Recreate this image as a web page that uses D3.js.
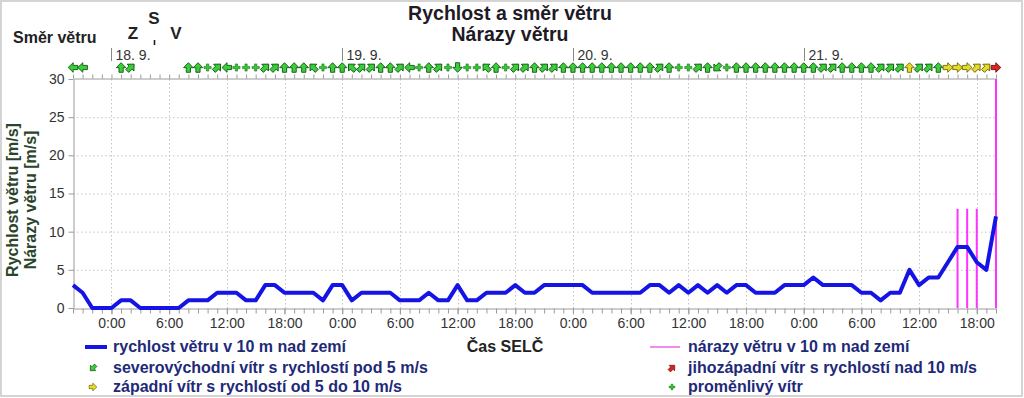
<!DOCTYPE html>
<html>
<head>
<meta charset="utf-8">
<script src="https://cdn.jsdelivr.net/npm/d3@7"></script>
<style>
  body { margin: 0; background: #fff; }
  svg { display: block; }
  text { font-family: "Liberation Sans", Arial, sans-serif; }
</style>
</head>
<body>
<svg id="chart" width="1024" height="398"></svg>
<script>
// hourly values, 17. 9. 20:00 -> 21. 9. 20:00
const startTime = Date.UTC(2023, 8, 17, 20);

const speed = [
  3, 2, 0, 0, 0, 1, 1, 0, 0, 0, 0, 0,
  1, 1, 1, 2, 2, 2, 1, 1, 3, 3, 2, 2,
  2, 2, 1, 3, 3, 1, 2, 2, 2, 2, 1, 1,
  1, 2, 1, 1, 3, 1, 1, 2, 2, 2, 3, 2,
  2, 3, 3, 3, 3, 3, 2, 2, 2, 2, 2, 2,
  3, 3, 2, 3, 2, 3, 2, 3, 2, 3, 3, 2,
  2, 2, 3, 3, 3, 4, 3, 3, 3, 3, 2, 2,
  1, 2, 2, 5, 3, 4, 4, 6, 8, 8, 6, 5,
  12
];

const gust = d3.range(97).map(() => null);
gust[92] = 13; gust[93] = 13; gust[94] = 13; gust[96] = 30;

// direction the wind comes from; "P" = proměnlivý, null = calm
const direction = [
  "V", "V", null, null, null, "J", "JZ", null, null, null, null, null,
  "J", "J", "P", "JZ", "V", "P", "P", "P", "JZ", "JZ", "J", "J",
  "J", "JV", "P", "J", "J", "JV", "JZ", "JZ", "J", "J", "JZ", "V",
  "P", "J", "JZ", "P", "S", "P", "P", "JV", "J", "P", "JZ", "JZ",
  "J", "JZ", "JZ", "J", "J", "J", "J", "J", "J", "J", "J", "J",
  "J", "JZ", "J", "P", "P", "JZ", "J", "SV", "P", "J", "J", "J",
  "J", "J", "J", "J", "J", "J", "JZ", "JZ", "J", "J", "J", "J",
  "JZ", "JZ", "JZ", "J", "JZ", "JZ", "J", "Z", "Z", "Z", "JZ", "JZ",
  "Z"
];

// arrow points where the air goes
const arrowAngle = { J: 0, JZ: 45, Z: 90, SZ: 135, S: 180, SV: 225, V: 270, JV: 315 };

const yTicks = [0, 5, 10, 15, 20, 25, 30];

const legendRows = [
  { label: "severovýchodní vítr s rychlostí pod 5 m/s", dir: "SV", v: 2 },
  { label: "jihozápadní vítr s rychlostí nad 10 m/s", dir: "JZ", v: 12 },
  { label: "západní vítr s rychlostí od 5 do 10 m/s", dir: "Z", v: 7 },
  { label: "proměnlivý vítr", dir: "P", v: 2 }
];

const hours = d3.range(speed.length).map(i => new Date(startTime + i * 3600e3));

const svg = d3.select("#chart");

const x = d3.scaleUtc()
  .domain([hours[0], hours[hours.length - 1]])
  .range([73, 996]);

const y = d3.scaleLinear()
  .domain([0, 30])
  .range([308, 79]);

function windColor(v) {
  if (v > 10) return { fill: "#dd2222", stroke: "#661010" };
  if (v >= 5) return { fill: "#e6dc28", stroke: "#6e6608" };
  return { fill: "#3ccc3c", stroke: "#0b5a0b" };
}

const arrowPath = "M0,-4.8L4.8,0.2L2.1,0.2L2.1,4.8L-2.1,4.8L-2.1,0.2L-4.8,0.2Z";
const plusPath = "M-1.1,-3.6h2.2v2.5h2.5v2.2h-2.5v2.5h-2.2v-2.5h-2.5v-2.2h2.5Z";

function drawWind(g, dir, v, s) {
  const c = windColor(v);
  if (dir === "P") {
    g.append("path").attr("d", plusPath)
      .attr("transform", `scale(${s})`)
      .attr("fill", "#2ecc2e").attr("stroke", "#0b5a0b").attr("stroke-width", 0.5);
  } else {
    g.append("path").attr("d", arrowPath)
      .attr("transform", `scale(${s}) rotate(${arrowAngle[dir]})`)
      .attr("fill", c.fill).attr("stroke", c.stroke).attr("stroke-width", 0.9);
  }
}

// frame
svg.append("rect")
  .attr("x", 1).attr("y", 1).attr("width", 1021).attr("height", 395)
  .attr("fill", "none").attr("stroke", "#d4d4d4").attr("stroke-width", 2);

// titles
svg.append("text").attr("x", 510).attr("y", 20).attr("text-anchor", "middle")
  .attr("font-size", 19.5).attr("font-weight", "bold").attr("fill", "#1e1a26")
  .text("Rychlost a směr větru");
svg.append("text").attr("x", 510).attr("y", 41).attr("text-anchor", "middle")
  .attr("font-size", 19.5).attr("font-weight", "bold").attr("fill", "#1e1a26")
  .text("Nárazy větru");

svg.append("text").attr("x", 13).attr("y", 43)
  .attr("font-size", 16).attr("font-weight", "bold").attr("fill", "#222")
  .text("Směr větru");

// compass
const compass = svg.append("g").attr("font-size", 17).attr("font-weight", "bold")
  .attr("fill", "#222").attr("text-anchor", "middle");
compass.append("text").attr("x", 133).attr("y", 39).text("Z");
compass.append("text").attr("x", 154).attr("y", 24).text("S");
compass.append("text").attr("x", 176).attr("y", 39).text("V");
svg.append("line").attr("x1", 154.5).attr("x2", 154.5).attr("y1", 40).attr("y2", 45)
  .attr("stroke", "#222").attr("stroke-width", 1.6);

// grid
const grid = svg.append("g").attr("stroke", "#c4c4c4").attr("stroke-dasharray", "1.5,2.5");
grid.selectAll(".hg").data(yTicks.filter(v => v > 0 && v < 30)).join("line")
  .attr("x1", 73).attr("x2", 996)
  .attr("y1", d => y(d) + 0.5).attr("y2", d => y(d) + 0.5);
grid.selectAll(".vg").data(x.ticks(d3.utcHour.every(6))).join("line")
  .attr("x1", d => Math.round(x(d)) + 0.5).attr("x2", d => Math.round(x(d)) + 0.5)
  .attr("y1", 79).attr("y2", 308);

// axes
function styleAxis(g) {
  g.selectAll(".domain").attr("stroke", "#9a9a9a");
  g.selectAll(".tick line").attr("stroke", "#9a9a9a");
  g.selectAll("text").attr("fill", "#333").attr("font-size", 14)
    .attr("font-family", "\"Liberation Sans\", Arial, sans-serif");
}

svg.append("g").attr("transform", "translate(0,308.5)")
  .call(d3.axisBottom(x).ticks(d3.utcHour.every(1)).tickSize(5).tickSizeOuter(0).tickFormat(""))
  .call(styleAxis);
svg.append("g").attr("transform", "translate(0,308.5)")
  .call(d3.axisBottom(x).ticks(d3.utcHour.every(6)).tickSize(6).tickSizeOuter(0)
    .tickFormat(d3.utcFormat("%-H:%M")).tickPadding(4))
  .call(styleAxis)
  .call(g => g.select(".domain").remove());

svg.append("g").attr("transform", "translate(0,78.5)")
  .call(d3.axisTop(x).ticks(d3.utcHour.every(1)).tickSize(4).tickSizeOuter(0).tickFormat(""))
  .call(styleAxis);

svg.append("g").attr("transform", "translate(73.5,0)")
  .call(d3.axisLeft(y).tickValues(yTicks).tickSize(5).tickSizeOuter(0).tickPadding(4))
  .call(styleAxis);

// y titles
const yTitle = svg.append("g").attr("font-size", 16).attr("font-weight", "bold")
  .attr("fill", "#2a452a").attr("text-anchor", "middle");
yTitle.append("text").attr("transform", "translate(18,200) rotate(-90)").text("Rychlost větru [m/s]");
yTitle.append("text").attr("transform", "translate(36,200) rotate(-90)").text("Nárazy větru [m/s]");

// day markers
const days = x.ticks(d3.utcDay.every(1));
const dayG = svg.append("g").selectAll("g").data(days).join("g")
  .attr("transform", d => `translate(${Math.round(x(d)) + 0.5},0)`);
dayG.append("line").attr("y1", 48).attr("y2", 61).attr("stroke", "#888");
dayG.append("text").attr("x", 4).attr("y", 60).attr("font-size", 14).attr("fill", "#333")
  .text(d3.utcFormat("%-d. %-m."));

// wind arrows
svg.append("g").selectAll("g")
  .data(hours.map((h, i) => ({ h, dir: direction[i], v: speed[i] })).filter(d => d.dir))
  .join("g")
  .attr("transform", d => `translate(${x(d.h)},67.5)`)
  .each(function (d) { drawWind(d3.select(this), d.dir, d.v, 1); });

// gusts
svg.append("g").selectAll("line")
  .data(hours.map((h, i) => ({ h, v: gust[i] })).filter(d => d.v != null))
  .join("line")
  .attr("x1", d => x(d.h)).attr("x2", d => x(d.h))
  .attr("y1", y(0)).attr("y2", d => y(d.v))
  .attr("stroke", "#ff33ff").attr("stroke-width", 2);

// speed line
svg.append("path")
  .datum(hours.map((h, i) => [h, speed[i]]))
  .attr("fill", "none")
  .attr("stroke", "#1414e6")
  .attr("stroke-width", 4)
  .attr("stroke-linejoin", "round")
  .attr("d", d3.line().x(d => x(d[0])).y(d => y(d[1])));

// legend
const legText = "#1e2a78";
const leg = svg.append("g").attr("font-size", 16).attr("font-weight", "bold");
leg.append("line").attr("x1", 85).attr("x2", 107).attr("y1", 347).attr("y2", 347)
  .attr("stroke", "#1414e6").attr("stroke-width", 4);
leg.append("text").attr("x", 113).attr("y", 352).attr("fill", legText)
  .text("rychlost větru v 10 m nad zemí");
leg.append("line").attr("x1", 650).attr("x2", 680).attr("y1", 347).attr("y2", 347)
  .attr("stroke", "#f08cf0").attr("stroke-width", 2);
leg.append("text").attr("x", 688).attr("y", 352).attr("fill", legText)
  .text("nárazy větru v 10 m nad zemí");
leg.append("text").attr("x", 505).attr("y", 352).attr("text-anchor", "middle").attr("fill", "#222")
  .text("Čas SELČ");

const rows = leg.selectAll(".row").data(legendRows).join("g")
  .attr("transform", (d, i) => `translate(${i % 2 ? 672 : 93},${i < 2 ? 368 : 387})`);
rows.each(function (d) { drawWind(d3.select(this), d.dir, d.v, 0.8); });
rows.append("text").attr("x", (d, i) => i % 2 ? 16 : 20).attr("y", 5).attr("fill", legText)
  .text(d => d.label);
</script>
</body>
</html>
